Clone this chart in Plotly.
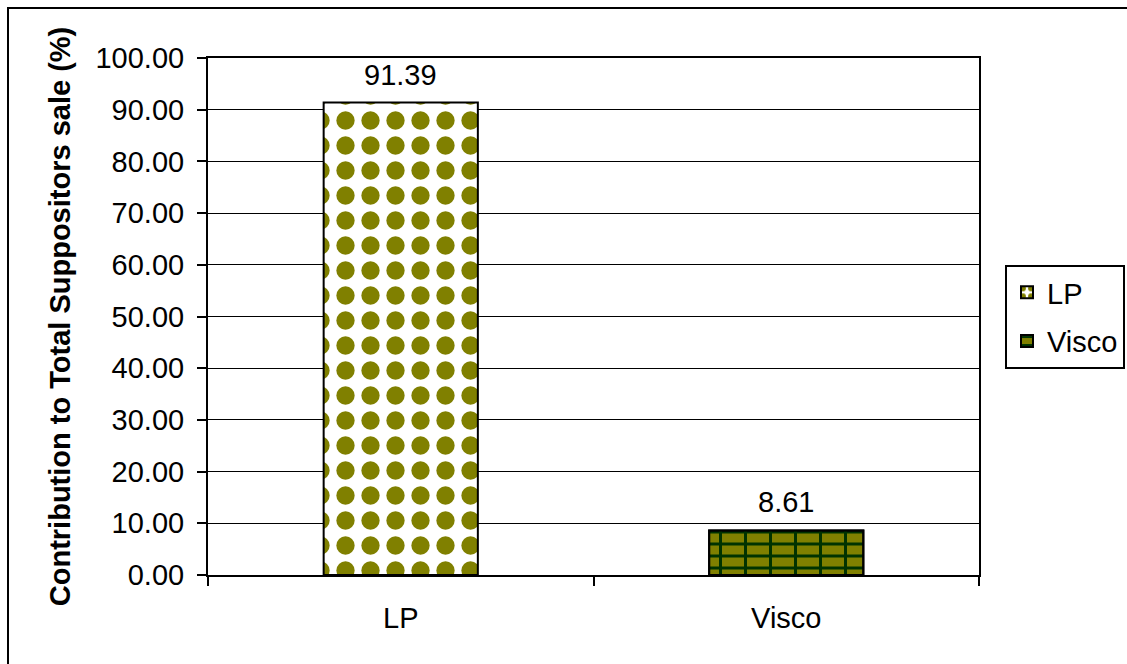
import plotly.graph_objects as go

# Share of total suppository sales by product
products = ["LP", "Visco"]
contribution_pct = [91.39, 8.61]

y_ticks = [0, 10, 20, 30, 40, 50, 60, 70, 80, 90, 100]

FONT = "Liberation Sans, Arial, sans-serif"
W, H = 1127, 664
ML, MR, MT, MB = 208, 148, 58, 89
PW, PH = W - ML - MR, H - MT - MB

OLIVE = "#808000"
MORTAR = "#003300"

fig = go.Figure()

# LP: olive dots on white
fig.add_trace(go.Bar(
    name=products[0], x=[products[0]], y=[contribution_pct[0]],
    legendgroup=products[0],
    marker=dict(
        color="#ffffff",
        pattern=dict(shape=".", fgcolor=OLIVE, bgcolor="#ffffff",
                     size=25, solidity=0.42, fillmode="replace"),
        line=dict(color="#000000", width=2),
    ),
))

# Visco: brick-like fill (horizontal courses + vertical joints)
fig.add_trace(go.Bar(
    name=products[1], x=[products[1]], y=[contribution_pct[1]],
    legendgroup=products[1],
    marker=dict(
        color=OLIVE,
        pattern=dict(shape="-", fgcolor=MORTAR, bgcolor=OLIVE,
                     size=12, solidity=0.25, fillmode="replace"),
        line=dict(color="#000000", width=2),
    ),
))
fig.add_trace(go.Bar(
    name=products[1], x=[products[1]], y=[contribution_pct[1]],
    showlegend=False, hoverinfo="skip",
    marker=dict(
        color="rgba(0,0,0,0)",
        pattern=dict(shape="|", fgcolor=MORTAR, bgcolor="rgba(0,0,0,0)",
                     size=25, solidity=0.12, fillmode="replace"),
        line=dict(color="#000000", width=2),
    ),
))

for name, val in zip(products, contribution_pct):
    fig.add_annotation(
        x=name, y=val, text=f"{val:.2f}", showarrow=False,
        yanchor="bottom", yshift=10,
        font=dict(family=FONT, size=29, color="#000000"),
    )

# outer chart-area frame
fig.add_shape(
    type="rect", xref="paper", yref="paper",
    x0=(8 - ML) / PW, x1=1.4, y0=-0.4, y1=(H - MB - 8) / PH,
    line=dict(color="#000000", width=2), fillcolor="rgba(0,0,0,0)",
    layer="below",
)

fig.update_layout(
    width=W, height=H,
    margin=dict(l=ML, r=MR, t=MT, b=MB, autoexpand=False),
    paper_bgcolor="#ffffff",
    plot_bgcolor="#ffffff",
    barmode="overlay",
    bargap=0.6,
    font=dict(family=FONT, size=29, color="#000000"),
    showlegend=True,
    legend=dict(
        x=(1005 - ML) / PW, y=(H - MB - 265) / PH,
        xanchor="left", yanchor="top",
        bordercolor="#000000", borderwidth=2,
        font=dict(family=FONT, size=29, color="#000000"),
        tracegroupgap=8,
        itemwidth=30,
    ),
    xaxis=dict(
        type="category",
        showline=True, linecolor="#000000", linewidth=2, mirror=True,
        ticks="outside", tickson="boundaries", ticklen=9, tickwidth=2, tickcolor="#000000",
        showgrid=False,
        ticklabelstandoff=16,
        tickfont=dict(family=FONT, size=29),
    ),
    yaxis=dict(
        range=[0, 100],
        tickvals=y_ticks,
        tickformat=".2f",
        showline=True, linecolor="#000000", linewidth=2, mirror=True,
        ticks="outside", ticklen=9, tickwidth=2, tickcolor="#000000",
        showgrid=True, gridcolor="#000000", gridwidth=1,
        zeroline=False,
        ticklabelstandoff=7,
        tickfont=dict(family=FONT, size=29),
        title=dict(
            text="<b>Contribution to Total Suppositors sale (%)</b>",
            font=dict(family=FONT, size=29),
            standoff=16,
        ),
    ),
)

fig.write_html("out.html")
